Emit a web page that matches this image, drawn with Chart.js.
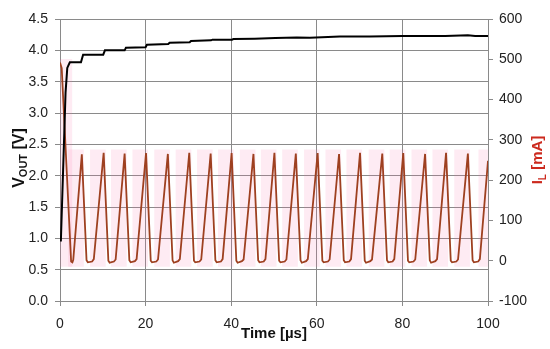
<!DOCTYPE html>
<html>
<head>
<meta charset="utf-8">
<script src="https://cdn.jsdelivr.net/npm/chart.js@4.4.1/dist/chart.umd.min.js"></script>
<style>
    html, body { margin: 0; padding: 0; background: #ffffff; }
    #wrap { width: 550px; height: 349px; }
</style>
</head>
<body>
<div id="wrap"><canvas id="boostChart" width="550" height="349"></canvas></div>
<script>
/*
  Boost converter start-up: Vout (left axis) and inductor current IL (right axis)
*/

// output voltage, V
const voutTime = [0.2, 1.3, 1.7, 2.3, 4.9, 5.4, 10.1, 10.5, 15.1, 15.4, 20.0, 20.3, 25.3, 25.6,
    30.3, 30.6, 35.3, 35.6, 40.2, 40.5, 45.5, 50.3, 55.3, 58.4, 65.4, 72.4, 80.0, 90.0, 95.3, 97.0, 100];
const voutValue = [0.95, 3.33, 3.72, 3.81, 3.81, 3.93, 3.93, 4.00, 4.00, 4.04, 4.05, 4.09, 4.10, 4.12,
    4.13, 4.15, 4.16, 4.17, 4.17, 4.18, 4.185, 4.195, 4.205, 4.20, 4.22, 4.22, 4.23, 4.23, 4.24, 4.23, 4.23];

// inductor current, mA
const ilTime = [0, 0.4, 2.6, 2.9, 3.1,
    5.1, 6.2, 6.5, 7.5, 7.9,
    10.2, 11.3, 11.6, 12.6, 13.0,
    15.1, 16.2, 16.5, 17.5, 17.9,
    20.1, 21.2, 21.5, 22.5, 22.9,
    25.2, 26.3, 26.6, 27.6, 28.0,
    30.2, 31.3, 31.6, 32.6, 33.0,
    35.2, 36.3, 36.6, 37.6, 38.0,
    40.1, 41.2, 41.5, 42.5, 42.9,
    45.2, 46.3, 46.6, 47.6, 48.0,
    50.1, 51.2, 51.5, 52.5, 52.9,
    55.1, 56.2, 56.5, 57.5, 57.9,
    60.2, 61.3, 61.6, 62.6, 63.0,
    65.2, 66.3, 66.6, 67.6, 68.0,
    70.1, 71.2, 71.5, 72.5, 72.9,
    75.3, 76.4, 76.7, 77.7, 78.1,
    80.2, 81.3, 81.6, 82.6, 83.0,
    85.3, 86.4, 86.7, 87.7, 88.1,
    90.2, 91.3, 91.6, 92.6, 93.0,
    95.3, 96.4, 96.7, 97.7, 98.1,
    100];
const ilValue = [492, 478, -2, -4, 2,
    264, 1, -4, -2, 4,
    268, 0, -5, -2, 3,
    266, 1, -4, -1, 4,
    267, 0, -4, -2, 3,
    265, 1, -5, -1, 4,
    268, 0, -4, -2, 3,
    266, 1, -4, -2, 4,
    267, 0, -5, -1, 3,
    265, 1, -4, -2, 4,
    268, 0, -4, -2, 3,
    266, 1, -5, -1, 4,
    267, 0, -4, -2, 3,
    265, 1, -4, -2, 4,
    268, 0, -5, -1, 3,
    266, 1, -4, -2, 4,
    267, 0, -4, -2, 3,
    265, 1, -5, -1, 4,
    268, 0, -4, -2, 3,
    266, 1, -4, -2, 4,
    248];

// faint pink bands behind the current trace
const bandCenter = [1.0, 3.75, 8.85, 13.75, 18.75, 23.85, 28.85, 33.85, 38.75, 43.85, 48.75,
    53.75, 58.85, 63.85, 68.75, 73.95, 78.85, 83.95, 88.85, 93.95, 99.6];
const bandTop = [500, 275, 275, 275, 275, 275, 275, 275, 275, 275, 275,
    275, 275, 275, 275, 275, 275, 275, 275, 275, 275];
const bandBottom = -14;

const FONT = "'Liberation Sans', Arial, sans-serif";
const GRID = "#8a8a8a";
const RED = "#cc2a1e";

function drawSubTitle(ctx, x, y, main, sub, rest, color, size) {

    const big = "bold " + size + "px " + FONT;
    const small = "bold " + Math.round(size * 0.68) + "px " + FONT;

    ctx.save();
    ctx.translate(x, y);
    ctx.rotate(-Math.PI / 2);
    ctx.fillStyle = color;
    ctx.textAlign = "left";
    ctx.textBaseline = "alphabetic";

    ctx.font = big;
    const w1 = ctx.measureText(main).width;
    const w3 = ctx.measureText(rest).width;
    ctx.font = small;
    const w2 = ctx.measureText(sub).width;

    let pos = -(w1 + w2 + w3) / 2;
    const base = size * 0.36;

    ctx.font = big;
    ctx.fillText(main, pos, base);
    pos += w1;
    ctx.font = small;
    ctx.fillText(sub, pos, base + size * 0.22);
    pos += w2;
    ctx.font = big;
    ctx.fillText(rest, pos, base);

    ctx.restore();
}

const axisTitles = {
    id: "axisTitles",
    afterDraw(chart) {
        const ctx = chart.ctx;
        const area = chart.chartArea;
        const midY = (area.top + area.bottom) / 2;

        drawSubTitle(ctx, 18, midY - 2, "V", "OUT", " [V]", "#111111", 16);
        drawSubTitle(ctx, 537, midY, "I", "L", " [mA]", RED, 15);

        ctx.save();
        ctx.font = "bold 15px " + FONT;
        ctx.fillStyle = "#111111";
        ctx.textAlign = "center";
        ctx.textBaseline = "middle";
        ctx.fillText("Time [µs]", (area.left + area.right) / 2, 334);
        ctx.restore();
    }
};

const canvas = document.getElementById("boostChart");

new Chart(canvas, {
    type: "line",
    data: {
        datasets: [
            {
                label: "VOUT",
                data: voutTime.map((t, i) => ({ x: t, y: voutValue[i] })),
                yAxisID: "y",
                borderColor: "#000000",
                borderWidth: 2,
                pointRadius: 0,
                tension: 0,
                order: 1
            },
            {
                label: "IL",
                data: ilTime.map((t, i) => ({ x: t, y: ilValue[i] })),
                yAxisID: "y1",
                borderColor: "#9e4020",
                borderWidth: 1.8,
                pointRadius: 0,
                tension: 0,
                order: 2
            },
            {
                type: "bar",
                label: "band",
                data: bandCenter.map((t, i) => ({ x: t, y: [bandBottom, bandTop[i]] })),
                yAxisID: "y1",
                backgroundColor: "rgba(245,110,170,0.14)",
                borderWidth: 0,
                barThickness: 15,
                order: 3
            }
        ]
    },
    options: {
        responsive: false,
        animation: false,
        layout: {
            padding: { top: 19, left: 0, right: 0, bottom: 0 }
        },
        plugins: {
            legend: { display: false },
            tooltip: { enabled: false }
        },
        scales: {
            x: {
                type: "linear",
                min: 0,
                max: 100,
                offset: false,
                grid: { color: GRID, tickColor: GRID, tickLength: 5, offset: false },
                border: { color: GRID },
                ticks: {
                    stepSize: 20,
                    padding: 10,
                    color: "#222222",
                    font: { family: FONT, size: 14 }
                },
                afterFit(scale) { scale.height = 48; }
            },
            y: {
                type: "linear",
                position: "left",
                min: 0,
                max: 4.5,
                grid: { color: GRID, tickColor: GRID, tickLength: 5 },
                border: { color: GRID },
                ticks: {
                    stepSize: 0.5,
                    padding: 7,
                    color: "#222222",
                    font: { family: FONT, size: 14 },
                    callback: (v) => v.toFixed(1)
                },
                afterFit(scale) { scale.width = 60; }
            },
            y1: {
                type: "linear",
                position: "right",
                min: -100,
                max: 600,
                grid: { drawOnChartArea: false, color: GRID, tickColor: GRID, tickLength: 5 },
                border: { color: GRID },
                ticks: {
                    stepSize: 100,
                    padding: 6,
                    color: "#222222",
                    font: { family: FONT, size: 14 }
                },
                afterFit(scale) { scale.width = 62; }
            }
        }
    },
    plugins: [axisTitles]
});
</script>
</body>
</html>
